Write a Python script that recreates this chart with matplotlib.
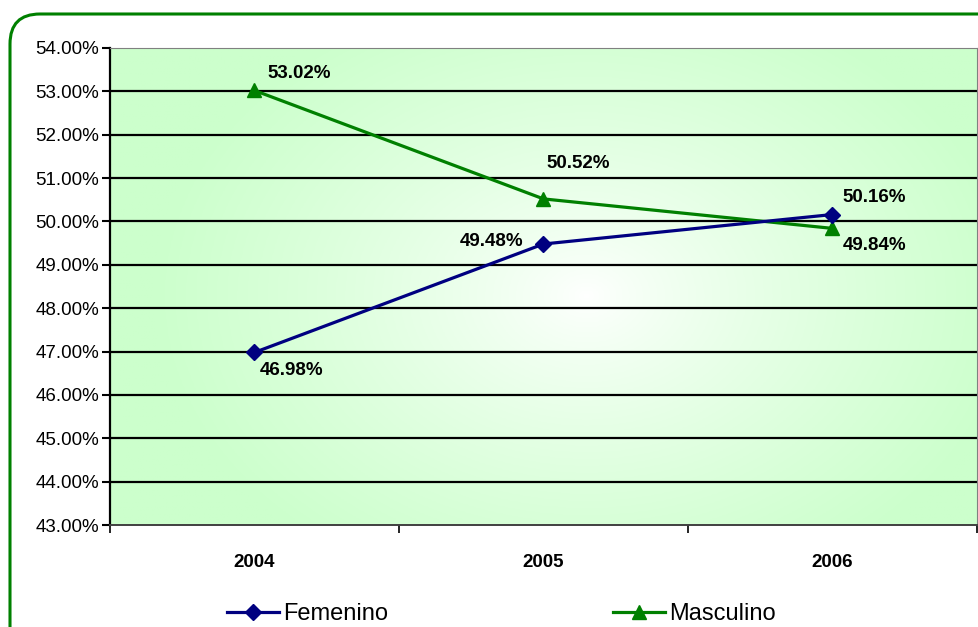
import numpy as np
import matplotlib
matplotlib.use('Agg')
import matplotlib.pyplot as plt
from matplotlib.patches import FancyBboxPatch
from matplotlib.ticker import FuncFormatter, FixedLocator

plt.rcParams['font.family'] = ['Liberation Sans', 'DejaVu Sans']

# data
years = ['2004', '2005', '2006']
femenino = [46.98, 49.48, 50.16]
masculino = [53.02, 50.52, 49.84]

# label offsets in pixels (dx, dy), alignment
fem_offsets = [(5, -18, 'left'), (-20, 3, 'right'), (10, 17, 'left')]
mas_offsets = [(13, 17, 'left'), (3, 35, 'left'), (10, -17, 'left')]

fig = plt.figure(figsize=(9.79, 6.27), dpi=100)
ax = fig.add_axes([110 / 979, 102 / 627, 867 / 979, 477 / 627])

# radial gradient background
ny, nx = 200, 300
yy, xx = np.mgrid[0:1:ny * 1j, 0:1:nx * 1j]
r = np.sqrt(((xx - 0.55) * 1.0) ** 2 + ((yy - 0.52) * 0.75) ** 2)
r = np.clip(r / 0.5, 0, 1) ** 0.8
edge = np.array([0.80, 1.0, 0.80])
img = np.ones((ny, nx, 3)) * (1 - r[..., None]) + edge * r[..., None]
ax.imshow(img, extent=[0, 1, 0, 1], transform=ax.transAxes, aspect='auto', zorder=0)

x = np.arange(len(years))
ax.plot(x, femenino, color='#000080', lw=2.3, marker='D', ms=8, zorder=4, label='Femenino')
ax.plot(x, masculino, color='#008000', lw=2.3, marker='^', ms=10, zorder=3, label='Masculino')

for xi, v, (dx, dy, ha) in zip(x, femenino, fem_offsets):
    ax.annotate(f'{v:.2f}%', (xi, v), xytext=(dx, dy), textcoords='offset pixels',
                ha=ha, va='center', fontsize=13.5, fontweight='bold', zorder=5)
for xi, v, (dx, dy, ha) in zip(x, masculino, mas_offsets):
    ax.annotate(f'{v:.2f}%', (xi, v), xytext=(dx, dy), textcoords='offset pixels',
                ha=ha, va='center', fontsize=13.5, fontweight='bold', zorder=5)

ax.set_xlim(-0.5, 2.5)
ax.set_ylim(43, 54)
ax.set_yticks(np.arange(43, 54.5, 1))
ax.yaxis.set_major_formatter(FuncFormatter(lambda v, p: f'{v:.2f}%'))
for yv in range(44, 54):
    ax.axhline(yv, color='black', lw=1.6, zorder=1)

ax.set_xticks(x)
ax.set_xticklabels(years, fontsize=13.5, fontweight='bold')
ax.xaxis.set_minor_locator(FixedLocator([-0.5, 0.5, 1.5, 2.5]))
ax.tick_params(axis='x', which='major', length=0, pad=21)
ax.tick_params(axis='x', which='minor', length=6, width=1.2, direction='out')
ax.tick_params(axis='y', length=6, width=1.5, direction='out', labelsize=13.5, pad=2)

ax.spines['left'].set_color('black')
ax.spines['left'].set_linewidth(1.6)
ax.spines['bottom'].set_color('#404040')
ax.spines['bottom'].set_linewidth(1.4)
ax.spines['top'].set_color('#808080')
ax.spines['right'].set_color('#808080')

fig.legend(loc='center', bbox_to_anchor=(0.512, 0.02), ncol=2, frameon=False,
           fontsize=17, handlelength=2.2, handletextpad=0.2, columnspacing=9.5)

# rounded green border, cut by the figure edge
border = FancyBboxPatch((0.10, -0.6), 10.5, 6.13 + 0.6,
                        boxstyle='round,pad=0,rounding_size=0.3',
                        transform=fig.dpi_scale_trans, fill=False,
                        edgecolor='#008000', lw=2.2, zorder=10)
fig.patches.append(border)

fig.savefig('out.png', dpi=100)
